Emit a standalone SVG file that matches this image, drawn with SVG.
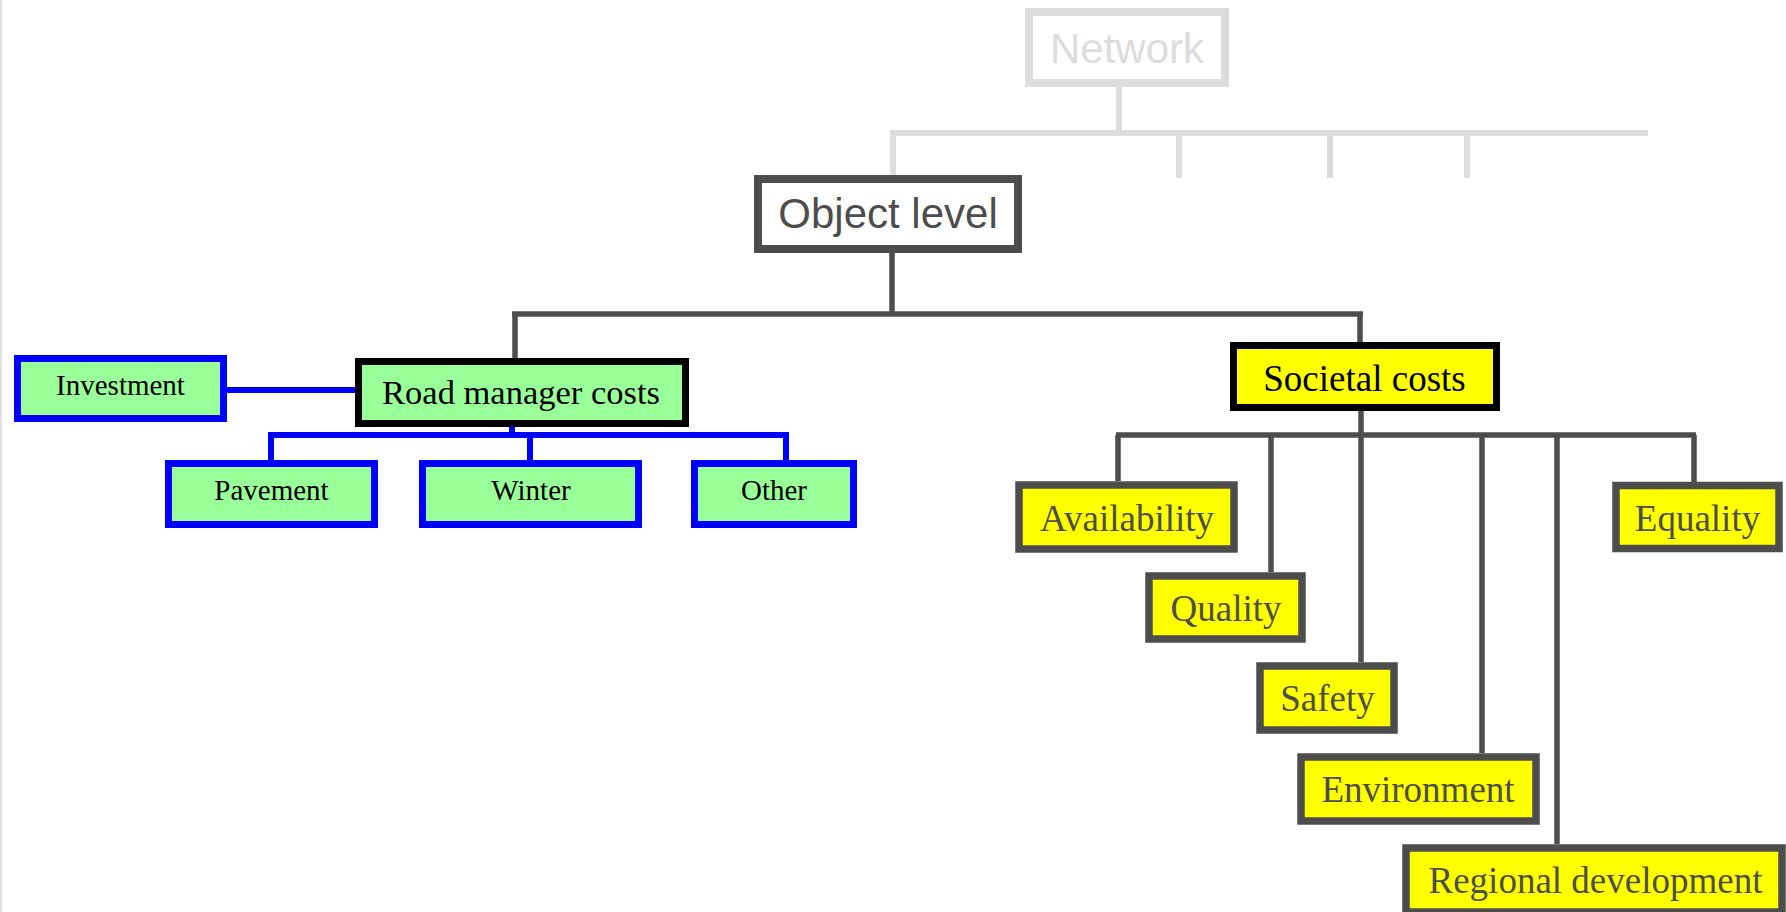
<svg xmlns="http://www.w3.org/2000/svg" width="1786" height="912" viewBox="0 0 1786 912">
<style>
.net{fill:#fff;stroke:#dddddd;stroke-width:8}
.obj{fill:#fff;stroke:#4d4d4d;stroke-width:8}
.green{fill:#99ff99;stroke:#0000ff;stroke-width:7}
.greenk{fill:#99ff99;stroke:#000;stroke-width:7}
.yel{fill:#ffff00;stroke:#4d4d4d;stroke-width:7.5}
.yelk{fill:#ffff00;stroke:#000;stroke-width:7}
.sans{font-family:"Liberation Sans",Arial,sans-serif;text-anchor:middle}
.serif{font-family:"Liberation Serif","Times New Roman",serif;text-anchor:middle}
.lg{stroke:#dddddd;stroke-width:6;fill:none}
.dk{stroke:#4d4d4d;stroke-width:5.5;fill:none}
.bl{stroke:#0000ff;stroke-width:6;fill:none}
</style>
<rect width="1786" height="912" fill="#fff"/>
<line x1="1" y1="0" x2="1" y2="912" stroke="#e0e0e0" stroke-width="2"/>
<g id="connectors">
<path class="lg" d="M1119 87V133M890 133H1648M893 133V178M1179 133V178M1330 133V178M1467 133V178"/>
<path class="dk" d="M892 253V314M512 314H1363M515 314V358M1360 314V342"/>
<path class="bl" d="M227 390H355M512 427V435M268 435H789M271 435V460M530 435V460M786 435V460"/>
<path class="dk" d="M1361 411V435M1116 435H1696M1118 435V481M1271 435V572M1361 435V662M1482 435V753M1557 435V844M1694 435V482"/>
</g>
<g id="network"><rect class="net" x="1029" y="12" width="196" height="71"/><text class="sans" x="1127" y="63" font-size="42" fill="#dddddd">Network</text></g>
<g id="object-level"><rect class="obj" x="758" y="179" width="260" height="70"/><text class="sans" x="888" y="228" font-size="42" fill="#4d4d4d">Object level</text></g>
<g id="road-manager-costs"><rect class="greenk" x="358.5" y="361.5" width="327" height="62"/><text class="serif" x="521" y="404" font-size="34.5" fill="#000">Road manager costs</text></g>
<g id="investment"><rect class="green" x="17.5" y="358.5" width="206" height="60"/><text class="serif" x="120.5" y="395" font-size="29" fill="#000">Investment</text></g>
<g id="pavement"><rect class="green" x="168.5" y="463.5" width="206" height="61"/><text class="serif" x="271.5" y="500" font-size="29" fill="#000">Pavement</text></g>
<g id="winter"><rect class="green" x="422.5" y="463.5" width="216" height="61"/><text class="serif" x="531" y="500" font-size="29" fill="#000">Winter</text></g>
<g id="other"><rect class="green" x="694.5" y="463.5" width="159" height="61"/><text class="serif" x="774" y="500" font-size="29" fill="#000">Other</text></g>
<g id="societal-costs"><rect class="yelk" x="1233.5" y="345.5" width="263" height="62"/><text class="serif" x="1364.5" y="391" font-size="37" fill="#000">Societal costs</text></g>
<g id="availability"><rect class="yel" x="1019" y="485" width="215" height="64"/><text class="serif" x="1127" y="531" font-size="37" fill="#4d4d4d">Availability</text></g>
<g id="equality"><rect class="yel" x="1616" y="485.5" width="163" height="63"/><text class="serif" x="1697.5" y="531" font-size="37" fill="#4d4d4d">Equality</text></g>
<g id="quality"><rect class="yel" x="1149" y="576" width="153" height="63"/><text class="serif" x="1226" y="621" font-size="37" fill="#4d4d4d">Quality</text></g>
<g id="safety"><rect class="yel" x="1260" y="666" width="134" height="64"/><text class="serif" x="1327.5" y="711" font-size="37" fill="#4d4d4d">Safety</text></g>
<g id="environment"><rect class="yel" x="1301" y="757" width="235" height="64"/><text class="serif" x="1418" y="802" font-size="37" fill="#4d4d4d">Environment</text></g>
<g id="regional-development"><rect class="yel" x="1406" y="848" width="376" height="64"/><text class="serif" x="1595.5" y="893" font-size="37" fill="#4d4d4d">Regional development</text></g>
</svg>
